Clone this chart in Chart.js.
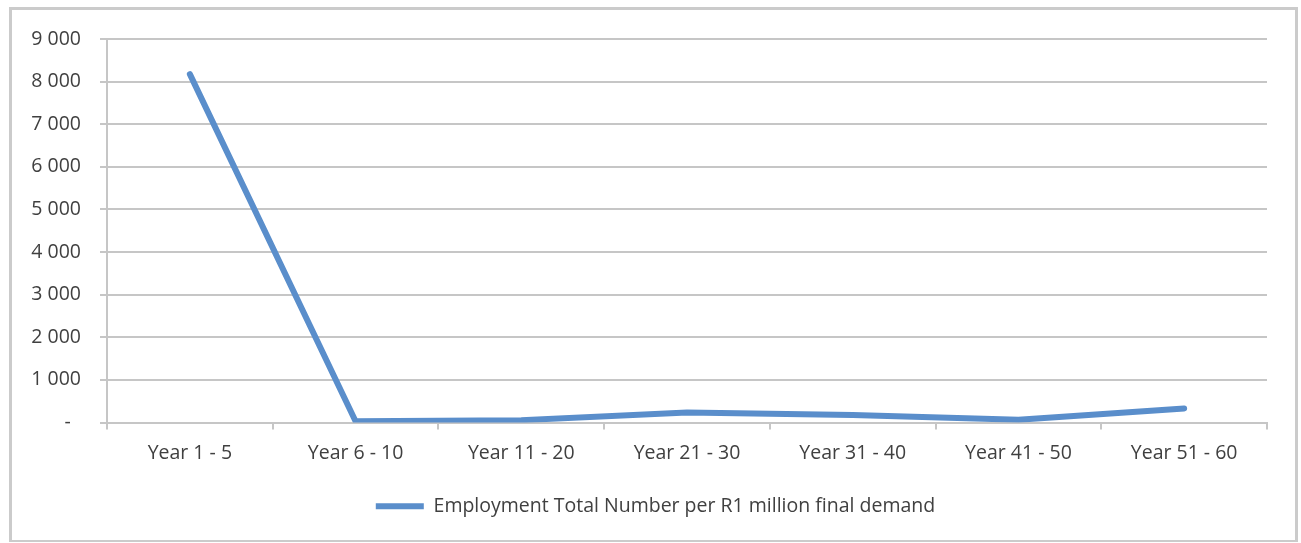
<!DOCTYPE html>
<html>
<head>
<meta charset="utf-8">
<script src="https://cdn.jsdelivr.net/npm/chart.js@4/dist/chart.umd.min.js"></script>
<style>
    html, body { margin: 0; padding: 0; background: #fff; }
    #wrap { position: absolute; left: 9px; top: 7px; width: 1283px; height: 530px; border: 3px solid #cbcbcb; border-bottom-width: 2px; }
    #chart-box { position: absolute; left: 0; top: 0; width: 1301px; height: 543px; }
</style>
</head>
<body>
<div id="wrap"></div>
<div id="chart-box"><canvas id="chart"></canvas></div>
<script>
const labels = ['Year 1 - 5', 'Year 6 - 10', 'Year 11 - 20', 'Year 21 - 30', 'Year 31 - 40', 'Year 41 - 50', 'Year 51 - 60'];
const employment = [8175, 30, 55, 235, 175, 65, 330];
const seriesName = 'Employment Total Number per R1 million final demand';
const yTicks = [0, 1000, 2000, 3000, 4000, 5000, 6000, 7000, 8000, 9000];

const lineColor = '#5a8ecb';
const gridColor = '#c6c6c6';
const textColor = '#404040';
const font = { family: 'Open Sans', size: 19.5 };

function formatTick(value) {
    if (value === 0) return '-  ';
    return String(value).replace(/\B(?=(\d{3})+(?!\d))/g, ' ');
}

// legend sits a bit right of the canvas centre, under the plot
const legendShift = {
    id: 'legendShift',
    afterLayout: function(chart) {
        chart.legend.left += 22;
        chart.legend.right += 22;
    }
};

var ctx = document.getElementById('chart').getContext('2d');
var chart = new Chart(ctx, {
    type: 'line',
    data: {
        labels: labels,
        datasets: [
            {
                label: seriesName,
                data: employment,
                borderColor: lineColor,
                backgroundColor: lineColor,
                borderWidth: 6,
                borderCapStyle: 'round',
                borderJoinStyle: 'round',
                pointRadius: 0,
                tension: 0,
                fill: false
            }
        ]
    },
    options: {
        responsive: true,
        maintainAspectRatio: false,
        animation: false,
        layout: {
            padding: { top: 39, right: 34, bottom: 17, left: 0 }
        },
        plugins: {
            tooltip: { enabled: false },
            legend: {
                position: 'bottom',
                labels: {
                    color: textColor,
                    font: font,
                    boxWidth: 48,
                    boxHeight: 6,
                    padding: 10,
                    generateLabels: function(chart) {
                        const ds = chart.data.datasets[0];
                        return [{
                            text: ds.label,
                            fillStyle: ds.borderColor,
                            strokeStyle: ds.borderColor,
                            lineWidth: 0,
                            fontColor: textColor,
                            datasetIndex: 0
                        }];
                    }
                }
            }
        },
        scales: {
            x: {
                offset: true,
                grid: {
                    offset: true,
                    drawOnChartArea: false,
                    drawTicks: true,
                    tickLength: 7,
                    color: gridColor,
                    lineWidth: 2
                },
                border: { display: true, color: gridColor, width: 2 },
                ticks: {
                    color: textColor,
                    font: font,
                    padding: 12,
                    maxRotation: 0,
                    autoSkip: false
                },
                afterFit: function(scale) {
                    scale.height = 64;
                }
            },
            y: {
                min: 0,
                max: 9000,
                afterBuildTicks: function(scale) {
                    scale.ticks = yTicks.map(v => ({ value: v }));
                },
                grid: {
                    color: gridColor,
                    lineWidth: 2,
                    tickLength: 7
                },
                border: { display: true, color: gridColor, width: 2 },
                ticks: {
                    color: textColor,
                    font: font,
                    padding: 19,
                    callback: formatTick
                },
                afterFit: function(scale) {
                    scale.width = 107;
                }
            }
        }
    },
    plugins: [legendShift]
});
</script>
</body>
</html>
